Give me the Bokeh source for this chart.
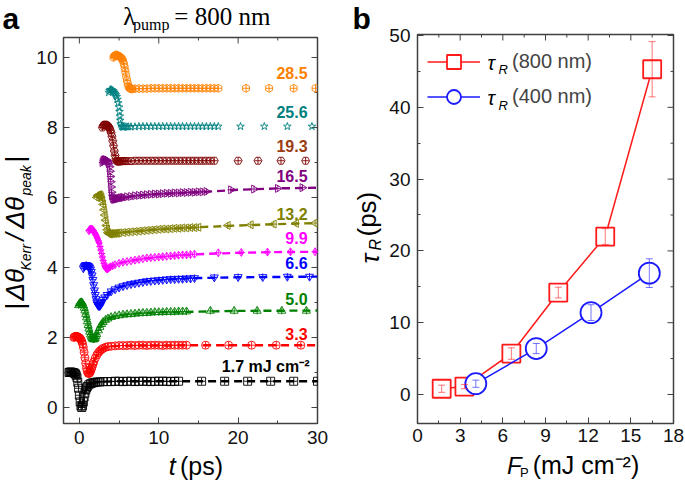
import numpy as np
from bokeh.plotting import figure
from bokeh.layouts import row, column
from bokeh.models import (Range1d, FixedTicker, Label, Legend, LegendItem,
                          ColumnDataSource, Whisker, TeeHead)
from bokeh.embed import file_html
from bokeh.resources import INLINE

FONT = "Liberation Sans"
SERIF = "Liberation Serif"

# ---------------- panel a data (time in ps, normalised + offset signal) ----------------
t_1p7 = [-1.3,-1.2,-1.1,-1.0,-0.9,-0.8,-0.7,-0.6,-0.5,-0.4,
         -0.3,-0.2,-0.1,0.0,0.1,0.2,0.3,0.4,0.5,0.6,
         0.7,0.8,0.9,1.0,1.2,1.4,1.6,1.8,2.0,2.3,
         2.6,3.0,3.5,4.0,4.5,5.0,5.5,6.0,6.5,7.0,
         7.5,8.0,8.5,9.0,9.5,10.0,10.5,11.0,11.5,12.0,
         12.5,15.4,18.3,21.2,24.1,27.0,30.0]
v_1p7 = [1.0,1.01,1.01,1.01,1.0,1.0,0.99,0.98,0.96,0.92,
         0.85,0.72,0.55,0.35,0.16,0.04,0.0,0.05,0.16,0.3,
         0.41,0.5,0.56,0.6,0.65,0.68,0.7,0.71,0.72,0.73,
         0.73,0.74,0.74,0.74,0.75,0.75,0.74,0.75,0.75,0.74,
         0.75,0.75,0.75,0.74,0.75,0.75,0.75,0.75,0.74,0.75,
         0.75,0.75,0.75,0.75,0.75,0.75,0.75]

t_3p3 = [-0.7,-0.6,-0.5,-0.4,-0.3,-0.2,-0.1,0.0,0.1,0.2,
         0.3,0.4,0.5,0.6,0.7,0.8,0.9,1.0,1.1,1.2,
         1.3,1.4,1.5,1.6,1.7,1.8,2.0,2.2,2.4,2.6,
         2.8,3.0,3.3,3.6,4.0,4.5,5.0,5.5,6.0,6.5,
         7.0,7.5,8.0,8.5,9.0,9.5,10.0,10.5,11.0,11.5,
         12.0,12.5,13.0,13.5,15.9,18.8,21.7,24.8,27.9]
v_3p3 = [2.0,2.02,2.03,2.03,2.03,2.02,2.0,1.99,1.97,1.94,
         1.89,1.82,1.72,1.58,1.42,1.26,1.12,1.03,0.98,0.97,
         0.99,1.03,1.09,1.16,1.23,1.3,1.41,1.5,1.57,1.62,
         1.66,1.69,1.72,1.74,1.75,1.76,1.77,1.77,1.77,1.78,
         1.77,1.78,1.78,1.77,1.78,1.78,1.78,1.77,1.78,1.78,
         1.78,1.78,1.78,1.78,1.78,1.78,1.78,1.78,1.78]

t_5p0 = [-0.1,0.0,0.1,0.2,0.3,0.4,0.5,0.6,0.7,0.8,
         0.9,1.0,1.1,1.2,1.3,1.4,1.5,1.6,1.7,1.8,
         1.9,2.0,2.1,2.2,2.4,2.6,2.8,3.0,3.3,3.6,
         4.0,4.5,5.0,5.5,6.0,6.5,7.0,7.5,8.0,8.5,
         9.0,9.5,10.0,10.5,11.0,11.5,12.0,12.5,13.0,13.5,
         16.5,19.5,22.4,25.5,28.6]
v_5p0 = [2.92,2.96,2.99,3.0,3.0,2.97,2.92,2.85,2.77,2.67,
         2.57,2.46,2.35,2.25,2.16,2.08,2.02,1.98,1.95,1.94,
         1.95,1.98,2.03,2.09,2.2,2.3,2.38,2.44,2.5,2.54,
         2.58,2.61,2.63,2.65,2.66,2.67,2.68,2.69,2.7,2.7,
         2.71,2.72,2.72,2.72,2.73,2.73,2.73,2.74,2.74,2.74,
         2.76,2.76,2.76,2.76,2.76]

t_6p6 = [0.5,0.6,0.7,0.8,0.9,1.0,1.1,1.2,1.3,1.4,
         1.5,1.6,1.7,1.8,1.9,2.0,2.1,2.2,2.3,2.4,
         2.5,2.6,2.7,2.8,3.0,3.2,3.5,4.0,4.5,5.0,
         5.5,6.0,6.5,7.0,7.5,8.0,8.5,9.0,9.5,10.0,
         10.5,11.0,11.5,12.0,12.5,13.0,13.5,14.0,14.5,17.0,
         20.0,23.1,26.2,29.0]
v_6p6 = [3.98,4.03,4.06,4.07,4.07,4.06,4.05,4.03,4.0,3.95,
         3.88,3.78,3.65,3.5,3.35,3.22,3.1,3.0,2.94,2.91,
         2.9,2.91,2.95,3.0,3.08,3.15,3.22,3.32,3.38,3.43,
         3.47,3.5,3.53,3.55,3.57,3.59,3.61,3.62,3.63,3.64,
         3.65,3.66,3.67,3.67,3.68,3.68,3.69,3.69,3.7,3.72,
         3.73,3.73,3.74,3.74]

t_9p9 = [1.2,1.3,1.4,1.5,1.6,1.7,1.8,1.9,2.0,2.1,
         2.2,2.3,2.4,2.5,2.6,2.7,2.8,2.9,3.0,3.1,
         3.2,3.3,3.4,3.5,3.6,3.7,3.9,4.2,4.5,5.0,
         5.5,6.0,6.5,7.0,7.5,8.0,8.5,9.0,9.5,10.0,
         10.5,11.0,11.5,12.0,12.5,13.0,13.5,14.0,14.5,17.5,
         20.4,23.7,26.6,29.7]
v_9p9 = [5.05,5.08,5.1,5.1,5.09,5.07,5.04,5.0,4.96,4.92,
         4.87,4.82,4.76,4.7,4.6,4.5,4.4,4.3,4.2,4.12,
         4.05,4.0,3.97,3.96,3.97,3.99,4.02,4.05,4.08,4.12,
         4.15,4.17,4.19,4.21,4.23,4.25,4.27,4.28,4.29,4.3,
         4.31,4.32,4.33,4.34,4.35,4.36,4.36,4.37,4.38,4.42,
         4.43,4.44,4.45,4.45]

t_13p2 = [2.2,2.3,2.4,2.5,2.6,2.7,2.8,2.9,3.0,3.1,
          3.2,3.3,3.4,3.5,3.6,3.7,3.8,3.9,4.0,4.2,
          4.4,4.6,4.8,5.0,5.5,6.0,6.5,7.0,7.5,8.0,
          8.5,9.0,9.5,10.0,10.5,11.0,11.5,12.0,12.5,13.0,
          13.5,14.0,14.5,15.0,18.7,21.6,24.5,27.3,29.7]
v_13p2 = [6.0,6.05,6.07,6.08,6.07,6.05,6.0,5.92,5.8,5.65,
          5.5,5.35,5.2,5.08,5.0,4.97,4.96,4.96,4.97,4.97,
          4.97,4.98,4.98,4.99,5.0,5.01,5.02,5.03,5.04,5.05,
          5.06,5.07,5.08,5.09,5.1,5.1,5.11,5.12,5.12,5.13,
          5.13,5.14,5.14,5.15,5.2,5.22,5.24,5.26,5.27]

t_16p5 = [2.9,3.0,3.1,3.2,3.3,3.4,3.5,3.6,3.7,3.8,
          3.85,3.9,3.95,4.0,4.05,4.1,4.2,4.3,4.4,4.5,
          4.6,4.7,4.8,5.0,5.2,5.4,5.6,6.0,6.5,7.0,
          7.5,8.0,8.5,9.0,9.5,10.0,10.5,11.0,11.5,12.0,
          12.5,13.0,13.5,14.0,14.5,15.0,15.5,16.0,19.1,22.0,
          25.0,28.1]
v_16p5 = [7.0,7.05,7.07,7.08,7.08,7.07,7.05,7.02,6.97,6.88,
          6.75,6.6,6.45,6.3,6.15,6.05,5.98,5.95,5.95,5.95,
          5.96,5.96,5.97,5.98,5.99,6.0,6.0,6.02,6.03,6.05,
          6.06,6.07,6.08,6.09,6.1,6.1,6.11,6.12,6.12,6.13,
          6.13,6.14,6.14,6.15,6.15,6.16,6.16,6.17,6.22,6.24,
          6.26,6.28]

t_19p3 = [2.9,3.0,3.1,3.2,3.3,3.4,3.5,3.6,3.7,3.8,
          3.9,4.0,4.1,4.2,4.3,4.4,4.5,4.6,4.7,4.8,
          4.9,5.0,5.2,5.4,5.6,5.8,6.0,6.5,7.0,7.5,
          8.0,8.5,9.0,9.5,10.0,10.5,11.0,11.5,12.0,12.5,
          13.0,13.5,14.0,14.5,15.0,15.5,16.0,16.5,17.0,20.0,
          22.5,25.4,28.5]
v_19p3 = [8.0,8.05,8.07,8.08,8.08,8.07,8.06,8.04,8.02,7.98,
          7.92,7.85,7.75,7.62,7.48,7.33,7.2,7.1,7.05,7.03,
          7.03,7.03,7.03,7.04,7.04,7.04,7.04,7.04,7.05,7.05,
          7.05,7.05,7.05,7.05,7.05,7.05,7.05,7.05,7.05,7.05,
          7.05,7.05,7.05,7.05,7.05,7.05,7.05,7.05,7.05,7.05,
          7.05,7.05,7.05]

t_25p6 = [3.7,3.8,3.9,4.0,4.1,4.2,4.3,4.4,4.5,4.6,
          4.7,4.8,4.9,5.0,5.05,5.1,5.15,5.2,5.3,5.4,
          5.5,5.6,5.8,6.0,6.2,6.5,7.0,7.5,8.0,8.5,
          9.0,9.5,10.0,10.5,11.0,11.5,12.0,12.5,13.0,13.5,
          14.0,14.5,15.0,15.5,16.0,16.5,17.0,17.5,20.3,23.3,
          26.2,29.3]
v_25p6 = [9.0,9.05,9.08,9.08,9.07,9.05,9.03,9.0,8.97,8.93,
          8.88,8.8,8.7,8.58,8.45,8.32,8.2,8.1,8.04,8.02,
          8.01,8.01,8.02,8.02,8.02,8.02,8.02,8.03,8.03,8.03,
          8.03,8.03,8.03,8.03,8.03,8.03,8.03,8.03,8.03,8.03,
          8.03,8.03,8.03,8.03,8.03,8.03,8.03,8.03,8.03,8.03,
          8.03,8.03]

t_28p5 = [4.3,4.4,4.5,4.6,4.7,4.8,4.9,5.0,5.1,5.2,
          5.3,5.4,5.5,5.6,5.7,5.8,5.9,6.0,6.1,6.2,
          6.3,6.4,6.5,6.7,7.0,7.5,8.0,8.5,9.0,9.5,
          10.0,10.5,11.0,11.5,12.0,12.5,13.0,13.5,14.0,14.5,
          15.0,15.5,16.0,16.5,17.0,17.5,21.0,23.9,27.0,29.75]
v_28p5 = [10.0,10.04,10.06,10.07,10.07,10.06,10.05,10.04,10.02,10.0,
          9.98,9.95,9.9,9.82,9.72,9.6,9.47,9.35,9.25,9.17,
          9.13,9.11,9.1,9.1,9.11,9.11,9.11,9.11,9.12,9.12,
          9.12,9.12,9.12,9.12,9.12,9.12,9.12,9.12,9.12,9.12,
          9.12,9.12,9.12,9.12,9.12,9.12,9.12,9.12,9.12,9.12]

# dashed fit curves
fit_t_1p7 = [0.3,0.5,0.7,0.9,1.2,1.6,2.0,3.0,5.0,10.0,20.0,30.0]
fit_v_1p7 = [0.02,0.18,0.41,0.55,0.64,0.69,0.72,0.74,0.75,0.75,0.75,0.75]
fit_t_3p3 = [1.1,1.3,1.6,2.0,2.5,3.0,4.0,5.0,7.0,10.0,15.0,20.0,30.0]
fit_v_3p3 = [0.97,1.03,1.18,1.41,1.59,1.69,1.75,1.76,1.77,1.77,1.78,1.78,1.78]
fit_t_5p0 = [1.8,2.2,2.6,3.0,3.5,4.0,5.0,6.0,8.0,10.0,15.0,20.0,30.0]
fit_v_5p0 = [1.94,2.09,2.3,2.44,2.52,2.58,2.63,2.66,2.7,2.72,2.74,2.76,2.77]
fit_t_6p6 = [2.5,2.8,3.2,4.0,5.0,6.0,7.0,8.0,10.0,12.0,15.0,20.0,25.0,30.0]
fit_v_6p6 = [2.9,3.0,3.15,3.32,3.43,3.5,3.55,3.59,3.64,3.67,3.7,3.72,3.73,3.74]
fit_t_9p9 = [3.5,4.0,5.0,6.0,8.0,10.0,12.0,15.0,20.0,25.0,30.0]
fit_v_9p9 = [3.96,4.04,4.12,4.17,4.25,4.3,4.34,4.38,4.42,4.44,4.45]
fit_t_13p2 = [3.8,5.0,7.0,10.0,15.0,20.0,25.0,30.0]
fit_v_13p2 = [4.96,4.99,5.03,5.09,5.15,5.2,5.24,5.27]
fit_t_16p5 = [4.3,5.0,7.0,10.0,15.0,20.0,25.0,30.0]
fit_v_16p5 = [5.95,5.98,6.05,6.1,6.15,6.22,6.26,6.28]

fluence_labels = ["1.7 mJ cm\u207b\u00b2", "3.3", "5.0", "6.6", "9.9", "13.2", "16.5", "19.3", "25.6", "28.5"]
label_y = [1.17, 2.11, 3.11, 4.14, 4.83, 5.54, 6.6, 7.46, 8.43, 9.57]

a_xticks = [0, 10, 20, 30]
a_xminor = [5, 15, 25]
a_yticks = [0, 2, 4, 6, 8, 10]
a_yminor = [1, 3, 5, 7, 9]

# ---------------- panel b data ----------------
F_800 = [1.7, 3.3, 6.6, 9.9, 13.2, 16.5]
tau_800 = [0.8, 1.1, 5.7, 14.2, 22.0, 45.3]
err_800 = [0.5, 0.3, 0.8, 0.75, 1.1, 3.85]
F_400 = [4.1, 8.35, 12.2, 16.3]
tau_400 = [1.5, 6.4, 11.4, 16.9]
err_400 = [0.5, 0.7, 1.1, 2.0]

b_xticks = [0, 3, 6, 9, 12, 15, 18]
b_xminor = [1.5, 4.5, 7.5, 10.5, 13.5, 16.5]
b_yticks = [0, 10, 20, 30, 40, 50]
b_yminor = [5, 15, 25, 35, 45]

series = [
    (t_1p7, v_1p7, "#000000", "square", 0.0, fit_t_1p7, fit_v_1p7),
    (t_3p3, v_3p3, "#ff0000", "circle", 0.0, fit_t_3p3, fit_v_3p3),
    (t_5p0, v_5p0, "#008000", "triangle", 0.0, fit_t_5p0, fit_v_5p0),
    (t_6p6, v_6p6, "#0000ff", "inverted_triangle", 0.0, fit_t_6p6, fit_v_6p6),
    (t_9p9, v_9p9, "#ff00ff", "diamond", 0.0, fit_t_9p9, fit_v_9p9),
    (t_13p2, v_13p2, "#808000", "triangle", np.pi / 2, fit_t_13p2, fit_v_13p2),
    (t_16p5, v_16p5, "#800080", "triangle", -np.pi / 2, fit_t_16p5, fit_v_16p5),
    (t_19p3, v_19p3, "#800000", "hex", 0.0, None, None),
    (t_25p6, v_25p6, "#008080", "star", 0.0, None, None),
    (t_28p5, v_28p5, "#ff8000", "hex", np.pi / 2, None, None),
]
label_colors = ["#000000", "#ff0000", "#008000", "#0000ff", "#ff00ff",
                "#808000", "#800080", "#9c3c14", "#008080", "#ff8000"]

FRAME = "#404040"
R90 = np.pi / 2
MID = 0.347  # distance (in em) from alphabetic baseline to the 'middle' anchor


def style(p, xt, xm, yt, ym, xr, yr, xstand, ystand):
    p.xgrid.visible = False
    p.ygrid.visible = False
    p.outline_line_color = FRAME
    p.outline_line_width = 1.5
    for ax in (p.xaxis[0], p.yaxis[0]):
        ax.axis_line_color = None
        ax.major_tick_in = 6
        ax.major_tick_out = 0
        ax.minor_tick_in = 3
        ax.minor_tick_out = 0
        ax.major_tick_line_color = FRAME
        ax.minor_tick_line_color = FRAME
        ax.major_label_text_font = FONT
        ax.major_label_text_font_size = "19px"
        ax.major_label_text_color = "#111111"
    p.xaxis[0].ticker = FixedTicker(ticks=xt, minor_ticks=xm)
    p.yaxis[0].ticker = FixedTicker(ticks=yt, minor_ticks=ym)
    p.xaxis[0].major_label_standoff = xstand
    p.yaxis[0].major_label_standoff = ystand
    # mirrored inward ticks on top and right edges (half of each dash is clipped by the frame)
    top, right = yr.end, xr.end
    for ticks, size in ((xt, 12), (xm, 6)):
        p.scatter(ticks, [top] * len(ticks), marker="dash", angle=R90, size=size,
                  line_color=FRAME, line_width=1)
    for ticks, size in ((yt, 12), (ym, 6)):
        p.scatter([right] * len(ticks), ticks, marker="dash", size=size,
                  line_color=FRAME, line_width=1)


def lab(p, x, y, text, size, style_="normal", font=FONT, color="black", align="left",
        angle=0.0):
    p.add_layout(Label(x=x, y=y, text=text, text_font=font, text_font_size=f"{size}px",
                       text_font_style=style_, text_color=color, text_align=align,
                       text_baseline="middle", angle=angle))


def plab(p, x, y, text, size, style_="normal", font=FONT, angle=0.0):
    """Label in a strip whose units are page pixels; (x, y) is the baseline start."""
    if angle == 0.0:
        lab(p, x, y - MID * size, text, size, style_, font)
    else:
        lab(p, x - MID * size, y, text, size, style_, font, angle=angle)


def strip(w, h, x0, y0):
    # text-only strip whose data units are page pixels (y downwards)
    f = figure(width=w, height=h, x_range=Range1d(x0, x0 + w), y_range=Range1d(y0 + h, y0),
               output_backend="svg", toolbar_location=None, min_border=0,
               x_axis_location=None, y_axis_location=None)
    f.outline_line_color = None
    f.xgrid.visible = False
    f.ygrid.visible = False
    return f


H = 480

# ---------------- panel a ----------------
xr1 = Range1d(-2, 30)
yr1 = Range1d(-0.457, 10.571)
p1 = figure(width=314, height=419, x_range=xr1, y_range=yr1,
            output_backend="svg", toolbar_location=None,
            min_border_left=28, min_border_right=30, min_border_top=4, min_border_bottom=29)
style(p1, a_xticks, a_xminor, a_yticks, a_yminor, xr1, yr1, 7, 6)

for (t, v, col, mk, ang, ft, fv) in series:
    src = ColumnDataSource(dict(t=t, v=v))
    p1.scatter("t", "v", source=src, marker=mk, angle=ang, size=8, fill_color=None,
               line_color=col, line_width=0.9)
    if mk != "star":
        p1.scatter("t", "v", source=src, marker="cross", size=7, line_color=col, line_width=0.9)
    if ft is not None:
        p1.line(ft, fv, line_color=col, line_width=2.4, line_dash="8 5")

for i, (txt, yy) in enumerate(zip(fluence_labels, label_y)):
    lab(p1, 29.0 if i == 0 else 28.75, yy, txt, 16, "bold", color=label_colors[i],
        align="right")

# strips around panel a
sA = strip(33, H, 0, 0)
plab(sA, 2, 28, "a", 30, "bold")
plab(sA, 24, 309, "|", 26, angle=R90)
plab(sA, 24, 300, "\u0394\u03b8", 26, "italic", angle=R90)
plab(sA, 30, 270, "Kerr", 14, "italic", angle=R90)
plab(sA, 24, 240, "/", 26, "italic", angle=R90)
plab(sA, 24, 228, "\u0394\u03b8", 26, "italic", angle=R90)
plab(sA, 30, 195, "peak", 14, "italic", angle=R90)
plab(sA, 24, 162, "|", 26, angle=R90)

sT = strip(314, 33, 33, 0)
plab(sT, 107, 25, "\u03bb", 25, font=SERIF)
plab(sT, 119, 29.5, "pump", 16, font=SERIF)
plab(sT, 170, 25, "= 800 nm", 25, font=SERIF)

sB = strip(314, 28, 33, 452)
plab(sB, 163, 474.6, "t", 25, "italic")
plab(sB, 177, 474.6, "(ps)", 25)

# ---------------- panel b ----------------
xr2 = Range1d(0, 18)
yr2 = Range1d(-4.04, 50.14)
p2 = figure(width=300, height=450, x_range=xr2, y_range=yr2,
            output_backend="svg", toolbar_location=None,
            min_border_left=32, min_border_right=12, min_border_top=34, min_border_bottom=27)
style(p2, b_xticks, b_xminor, b_yticks, b_yminor, xr2, yr2, 5, 7)

RED = "#ff1a1a"
BLUE = "#1a1aff"
l8 = p2.line(F_800, tau_800, line_color=RED, line_width=1.5)
s8 = p2.scatter(F_800, tau_800, marker="square", size=18, fill_color="white",
                line_color=RED, line_width=1.8)
l4 = p2.line(F_400, tau_400, line_color=BLUE, line_width=1.5)
s4 = p2.scatter(F_400, tau_400, marker="circle", size=21, fill_color="white",
                line_color=BLUE, line_width=1.8)

for F, tau, err, col in ((F_800, tau_800, err_800, RED), (F_400, tau_400, err_400, BLUE)):
    src = ColumnDataSource(dict(x=F, upper=[a + b for a, b in zip(tau, err)],
                                lower=[a - b for a, b in zip(tau, err)]))
    w = Whisker(base="x", upper="upper", lower="lower", source=src, dimension="height",
                line_color=col, line_alpha=0.6, line_width=1,
                upper_head=TeeHead(size=7, line_color=col, line_alpha=0.6),
                lower_head=TeeHead(size=7, line_color=col, line_alpha=0.6),
                level="overlay")
    p2.add_layout(w)

leg = Legend(items=[LegendItem(label="(800 nm)", renderers=[l8, s8]),
                    LegendItem(label="(400 nm)", renderers=[l4, s4])],
             location="top_left", margin=0, padding=10, glyph_width=53, glyph_height=35,
             spacing=0, label_standoff=32, label_height=35,
             label_text_font=FONT, label_text_font_size="20px",
             border_line_alpha=0, background_fill_alpha=0)
p2.add_layout(leg)
# tau_R prefixes of the legend labels (middle-anchored, data units of panel b)
lab(p2, 4.92, 46.2, "\u03c4", 20, "italic")
lab(p2, 5.70, 45.2, "R", 13, "italic")
lab(p2, 4.92, 41.3, "\u03c4", 20, "italic")
lab(p2, 5.70, 40.3, "R", 13, "italic")

sC = strip(38, H, 347, 0)
plab(sC, 352, 28, "b", 30, "bold")
plab(sC, 379, 263, "\u03c4", 26, "italic", angle=R90)
plab(sC, 381, 250, "R", 16, "italic", angle=R90)
plab(sC, 376, 236, "(ps)", 26, angle=R90)

sD = strip(300, 30, 385, 450)
plab(sD, 490, 473, "F", 24, "italic")
plab(sD, 505, 476.5, "P", 13)
plab(sD, 520, 473, "(mJ cm\u207b\u00b2)", 25)

layout = row(sA, column(sT, p1, sB), sC, column(p2, sD))
open("out.html", "w").write(file_html(layout, INLINE))
